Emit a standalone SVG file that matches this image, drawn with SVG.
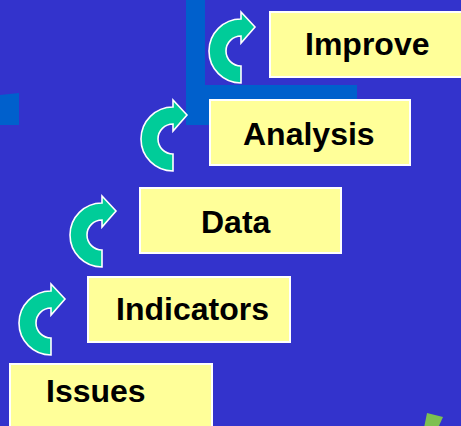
<svg xmlns="http://www.w3.org/2000/svg" width="461" height="426" viewBox="0 0 461 426">
  <defs>
    <style>
      .step { fill: #FFFF99; stroke: #FFFFFF; stroke-width: 2; }
      .label { font-family: "Liberation Sans", Arial, sans-serif; font-weight: bold; font-size: 32px; fill: #000000; }
      .turn { fill: #00CC99; stroke: #FFFFFF; stroke-width: 1.6; stroke-linejoin: miter; }
      .bar { fill: #0060CC; }
    </style>
    <!-- curved arrow centred on its own origin: thick C ring with a head at the top -->
    <path id="turn" d="M0,32 A32,32 0 0 1 0,-32 L0,-39 L14,-24 L0,-8 L0,-15 A15,15 0 0 0 0,15 Z"/>
  </defs>

  <!-- background -->
  <rect x="0" y="0" width="461" height="426" fill="#3333CC"/>

  <!-- decorative bars -->
  <g id="decor">
    <rect class="bar" x="186" y="0" width="19" height="125"/>
    <rect class="bar" x="186" y="85" width="171" height="40"/>
    <polygon class="bar" points="0,95 19,93 19,125 0,125"/>
    <polygon fill="#7DC051" points="427,413 443,417 438,428 424,428"/>
  </g>

  <!-- step boxes -->
  <g id="node-improve">
    <rect class="step" x="270" y="12" width="200" height="65"/>
    <text class="label" x="305" y="55">Improve</text>
  </g>
  <g id="node-analysis">
    <rect class="step" x="210" y="100" width="200" height="65"/>
    <text class="label" x="243" y="145">Analysis</text>
  </g>
  <g id="node-data">
    <rect class="step" x="140" y="188" width="201" height="65"/>
    <text class="label" x="201" y="233">Data</text>
  </g>
  <g id="node-indicators">
    <rect class="step" x="88" y="277" width="202" height="65"/>
    <text class="label" x="116" y="320">Indicators</text>
  </g>
  <g id="node-issues">
    <rect class="step" x="10" y="364" width="202" height="70"/>
    <text class="label" x="46" y="402">Issues</text>
  </g>

  <!-- connectors: curved arrows between steps -->
  <g id="connectors">
    <use href="#turn" class="turn" transform="translate(51,323)"/>
    <use href="#turn" class="turn" transform="translate(102,235)"/>
    <use href="#turn" class="turn" transform="translate(173,139)"/>
    <use href="#turn" class="turn" transform="translate(241,51)"/>
  </g>
</svg>
